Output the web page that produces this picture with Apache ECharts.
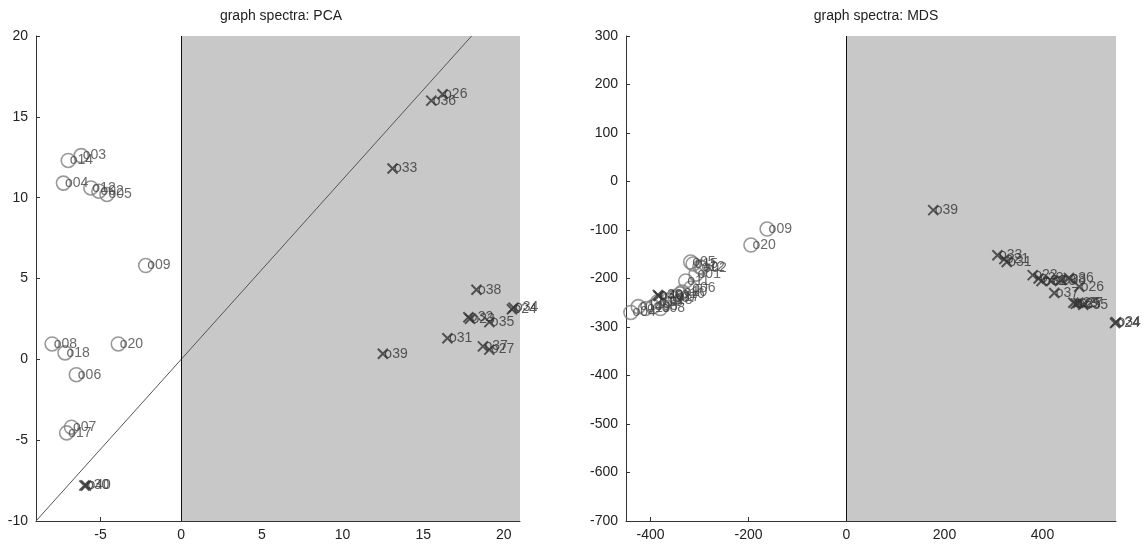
<!DOCTYPE html>
<html>
<head>
<meta charset="utf-8">
<script src="https://cdn.jsdelivr.net/npm/echarts@6/dist/echarts.min.js"></script>
<style>
  html, body { margin: 0; padding: 0; background: #fff; }
  #chart { width: 1144px; height: 546px; }
</style>
</head>
<body>
<div id="chart"></div>
<script>
// PCA panel: circle nodes
const pcaCircleIds = ['o03', 'o14', 'o04', 'o12', 'o02', 'o05', 'o09', 'o08', 'o18', 'o20', 'o06', 'o07', 'o17'];
const pcaCircleX = [-6.2, -7.0, -7.3, -5.6, -5.1, -4.6, -2.2, -8.0, -7.2, -3.9, -6.5, -6.8, -7.1];
const pcaCircleY = [12.6, 12.3, 10.9, 10.6, 10.4, 10.2, 5.8, 0.95, 0.4, 0.95, -0.95, -4.2, -4.55];

// PCA panel: cross nodes
const pcaCrossIds = ['o36', 'o26', 'o33', 'o38', 'o24', 'o34', 'o32', 'o23', 'o35', 'o31', 'o37', 'o27', 'o39', 'o30', 'o40'];
const pcaCrossX = [15.5, 16.2, 13.1, 18.3, 20.5, 20.6, 17.8, 17.9, 19.1, 16.5, 18.7, 19.1, 12.5, -6.0, -5.9];
const pcaCrossY = [16.0, 16.4, 11.8, 4.3, 3.1, 3.2, 2.6, 2.5, 2.3, 1.3, 0.8, 0.6, 0.35, -7.8, -7.8];

// PCA reference line (corner through origin)
const pcaLineX = [-9, 18];
const pcaLineY = [-10, 20];

// MDS panel: circle nodes
const mdsCircleIds = ['o04', 'o14', 'o19', 'o03', 'o08', 'o13', 'o18', 'o07', 'o17', 'o16', 'o10', 'o06', 'o11', 'o01', 'o12', 'o02', 'o05', 'o15', 'o20', 'o09'];
const mdsCircleX = [-440, -425, -410, -395, -380, -385, -365, -355, -350, -340, -335, -318, -328, -307, -299, -295, -318, -313, -195, -162];
const mdsCircleY = [-270, -258, -262, -258, -262, -248, -245, -240, -238, -232, -228, -220, -205, -191, -176, -178, -166, -170, -131, -98];

// MDS panel: cross nodes
const mdsCrossIds = ['o39', 'o33', 'o21', 'o31', 'o22', 'o23', 'o32', 'o28', 'o38', 'o36', 'o37', 'o26', 'o29', 'o27', 'o25', 'o35', 'o24', 'o34', 'o30', 'o40'];
const mdsCrossX = [177, 308, 322, 327, 380, 392, 398, 418, 438, 454, 424, 475, 463, 473, 468, 483, 548, 550, -385, -383];
const mdsCrossY = [-59, -152, -160, -166, -193, -200, -205, -205, -203, -199, -230, -217, -250, -250, -252, -254, -292, -290, -234, -236];

// axis tick values
const pcaXTicks = [-5, 0, 5, 10, 15, 20];
const mdsXTicks = [-400, -200, 0, 200, 400];

const chart = echarts.init(document.getElementById('chart'));

const zip = (xs, ys, ids) => xs.map((x, i) => ids ? [x, ys[i], ids[i]] : [x, ys[i]]);

const FONT = 'Liberation Sans, Arial, sans-serif';
const crossPath = 'path://M0,0L10,10M10,0L0,10';

const axisCommon = {
  axisLine: { show: true, onZero: false, lineStyle: { color: '#333', width: 1 } },
  axisTick: { show: true, inside: true, length: 4, lineStyle: { color: '#333' } },
  axisLabel: { color: '#222', fontSize: 14, fontFamily: FONT },
  splitLine: { show: false }
};

const circleLabel = {
  show: true,
  position: 'right',
  distance: -8,
  formatter: p => p.data[2],
  color: '#444',
  fontSize: 14,
  fontFamily: FONT
};
const crossLabel = Object.assign({}, circleLabel, { distance: -6, color: '#333' });

function circleSeries(gi, data) {
  return {
    type: 'scatter', xAxisIndex: gi, yAxisIndex: gi, data: data,
    symbol: 'circle', symbolSize: 14, z: 5,
    itemStyle: { color: 'none', borderColor: '#808080', borderWidth: 1.6 },
    label: circleLabel
  };
}
function crossSeries(gi, data) {
  return {
    type: 'scatter', xAxisIndex: gi, yAxisIndex: gi, data: data,
    symbol: crossPath, symbolSize: 10, z: 6,
    itemStyle: { color: 'none', borderColor: '#333', borderWidth: 2 },
    label: crossLabel
  };
}
function shadeSeries(gi, xmax, extra) {
  return Object.assign({
    type: 'line', xAxisIndex: gi, yAxisIndex: gi, data: [], z: 1, silent: true,
    markArea: {
      silent: true,
      itemStyle: { color: '#c8c8c8' },
      data: [[{ xAxis: 0 }, { xAxis: xmax }]]
    },
    markLine: {
      silent: true, symbol: 'none', label: { show: false },
      lineStyle: { color: '#111', width: 1, type: 'solid' },
      data: [{ xAxis: 0 }]
    }
  }, extra || {});
}

chart.setOption({
  animation: false,
  title: [
    { text: 'graph spectra: PCA', left: 276, top: 4, textAlign: 'center',
      textStyle: { fontSize: 14, fontWeight: 'normal', color: '#222', fontFamily: FONT } },
    { text: 'graph spectra: MDS', left: 871, top: 4, textAlign: 'center',
      textStyle: { fontSize: 14, fontWeight: 'normal', color: '#222', fontFamily: FONT } }
  ],
  grid: [
    { left: 36, top: 36, width: 484, height: 485 },
    { left: 626, top: 36, width: 490, height: 485 }
  ],
  xAxis: [
    Object.assign({}, axisCommon, {
      type: 'value', gridIndex: 0, min: -9, max: 21,
      axisTick: Object.assign({}, axisCommon.axisTick, { customValues: pcaXTicks }),
      axisLabel: Object.assign({}, axisCommon.axisLabel, { customValues: pcaXTicks, margin: 7 })
    }),
    Object.assign({}, axisCommon, {
      type: 'value', gridIndex: 1, min: -450, max: 550,
      axisTick: Object.assign({}, axisCommon.axisTick, { customValues: mdsXTicks }),
      axisLabel: Object.assign({}, axisCommon.axisLabel, { customValues: mdsXTicks, margin: 7 })
    })
  ],
  yAxis: [
    Object.assign({}, axisCommon, { type: 'value', gridIndex: 0, min: -10, max: 20, interval: 5 }),
    Object.assign({}, axisCommon, { type: 'value', gridIndex: 1, min: -700, max: 300, interval: 100 })
  ],
  series: [
    shadeSeries(0, 21, {
      data: zip(pcaLineX, pcaLineY), showSymbol: false, symbol: 'none',
      lineStyle: { color: '#555', width: 1 }
    }),
    shadeSeries(1, 550),
    circleSeries(0, zip(pcaCircleX, pcaCircleY, pcaCircleIds)),
    crossSeries(0, zip(pcaCrossX, pcaCrossY, pcaCrossIds)),
    circleSeries(1, zip(mdsCircleX, mdsCircleY, mdsCircleIds)),
    crossSeries(1, zip(mdsCrossX, mdsCrossY, mdsCrossIds))
  ]
});
</script>
</body>
</html>
